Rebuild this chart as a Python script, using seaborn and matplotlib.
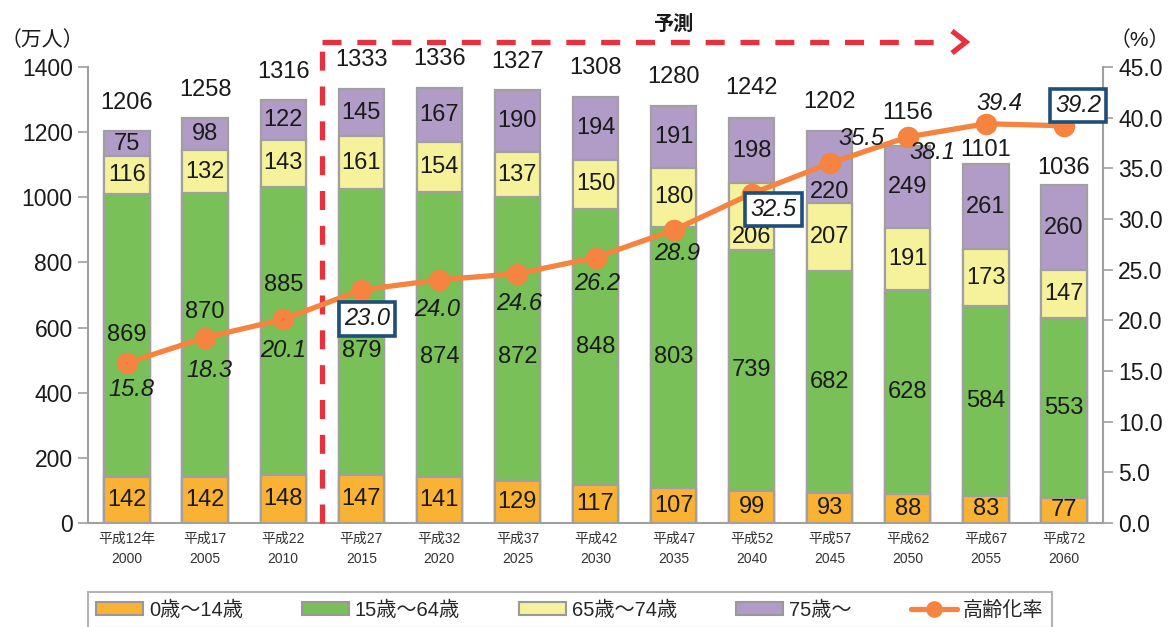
import numpy as np
import pandas as pd
import matplotlib
matplotlib.use("Agg")
import matplotlib.pyplot as plt
from matplotlib.patches import Patch
from matplotlib.lines import Line2D
import seaborn as sns

# ---------------- data ----------------
era_labels = ["平成12年", "平成17", "平成22", "平成27", "平成32", "平成37", "平成42",
              "平成47", "平成52", "平成57", "平成62", "平成67", "平成72"]
years = ["2000", "2005", "2010", "2015", "2020", "2025", "2030",
         "2035", "2040", "2045", "2050", "2055", "2060"]
age_0_14 = [142, 142, 148, 147, 141, 129, 117, 107, 99, 93, 88, 83, 77]
age_15_64 = [869, 870, 885, 879, 874, 872, 848, 803, 739, 682, 628, 584, 553]
age_65_74 = [116, 132, 143, 161, 154, 137, 150, 180, 206, 207, 191, 173, 147]
age_75_up = [75, 98, 122, 145, 167, 190, 194, 191, 198, 220, 249, 261, 260]
totals = [1206, 1258, 1316, 1333, 1336, 1327, 1308, 1280, 1242, 1202, 1156, 1101, 1036]
aging_rate = [15.8, 18.3, 20.1, 23.0, 24.0, 24.6, 26.2, 28.9, 32.5, 35.5, 38.1, 39.4, 39.2]
series_names = ["0歳～14歳", "15歳～64歳", "65歳～74歳", "75歳～"]
line_name = "高齢化率"

# ---------------- style ----------------
sns.set_theme(style="white")
plt.rcParams["font.family"] = ["Liberation Sans", "Noto Sans CJK JP", "DejaVu Sans"]

colors = ["#F9B233", "#78C057", "#F6F29C", "#B19CC7"]
edge = "#A0A0A0"
line_color = "#F4843F"
red = "#E8313F"
box_blue = "#1F4E79"
txt = "#1A1A1A"

W, H = 1171, 627
fig = plt.figure(figsize=(W / 100, H / 100), dpi=100)
ax = fig.add_axes([88 / W, 1 - 523 / H, (1103 - 88) / W, (523 - 67) / H])

cats = [f"{e}\n{y}" for e, y in zip(era_labels, years)]
segs = [age_0_14, age_15_64, age_65_74, age_75_up]
cum = np.cumsum(np.array(segs), axis=0)

# stacked bars drawn top-down (overlay)
for k in range(3, -1, -1):
    sns.barplot(x=cats, y=cum[k], order=cats, color=colors[k], saturation=1,
                edgecolor=edge, linewidth=1.6, width=0.58, errorbar=None, ax=ax,
                zorder=2)

ax.set_xlim(-0.5, 12.5)
ax.set_ylim(0, 1400)
ax.set_yticks(range(0, 1401, 200))
ax.set_xticks(range(13))
ax.set_xticklabels(cats, fontsize=10, linespacing=1.6, color="#333333")
ax.set_xlabel("")
ax.set_ylabel("")
ax.set_xticks(np.arange(-0.5, 13, 1), minor=True)
ax.tick_params(axis="x", which="major", length=0, pad=6)
ax.tick_params(axis="x", which="minor", length=6, width=1.2, color=edge, direction="out")
ax.tick_params(axis="y", length=7, width=1.2, color=edge, direction="out",
               labelsize=16.5, labelcolor=txt, pad=4)
for s in ["top", "right"]:
    ax.spines[s].set_visible(False)
for s in ["left", "bottom"]:
    ax.spines[s].set_color(edge)
    ax.spines[s].set_linewidth(1.5)

# segment labels
green_shift = [0, 71, 141, -58, -68, -55, 0, 0, 0, 0, 0, 0, 0]
yellow_shift = [0, 0, 0, 0, 0, 0, 0, 0, -63, 0, 0, 0, 0]
purple_shift = [0, 0, 0, 0, 0, 0, 0, 0, 0, -76, 0, 0, 0]
shifts = [[0] * 13, green_shift, yellow_shift, purple_shift]
for k in range(4):
    for i in range(13):
        base = cum[k][i] - segs[k][i]
        yc = base + segs[k][i] / 2 + shifts[k][i]
        ax.text(i, yc, str(segs[k][i]), ha="center", va="center",
                fontsize=17, color=txt, zorder=5)

# totals
total_gap = [88, 88, 88, 88, 88, 88, 88, 88, 92, 90, 103, 43, 52]
for i in range(13):
    ax.text(i, cum[3][i] + total_gap[i], str(totals[i]), ha="center", va="center",
            fontsize=17, color=txt, zorder=5)

# aging rate line
ax2 = ax.twinx()
sns.lineplot(x=np.arange(13), y=aging_rate, ax=ax2, color=line_color, lw=3.8,
             marker="o", markersize=15.5, markeredgewidth=0, zorder=4)
ax2.set_xlim(-0.5, 12.5)
ax2.set_ylim(0, 45)
ax2.set_yticks(np.arange(0, 45.1, 5))
ax2.set_yticklabels([f"{v:.1f}" for v in np.arange(0, 45.1, 5)])
ax2.tick_params(axis="y", length=7, width=1.2, color=edge, direction="out",
                labelsize=16.5, labelcolor=txt, pad=4)
for s in ["top", "left", "bottom"]:
    ax2.spines[s].set_visible(False)
ax2.spines["right"].set_color(edge)
ax2.spines["right"].set_linewidth(1.5)
ax2.grid(False)
ax.grid(False)

offsets = [(4, -27), (4, -33), (0, -31), (6, -29), (-2, -30), (2, -30), (2, -26),
           (4, -23), (22, -16), (32, 25), (25, -16), (14, 20), (14, 20)]
boxed = {3, 8, 12}
for i, r in enumerate(aging_rate):
    kw = {}
    if i in boxed:
        kw["bbox"] = dict(boxstyle="square,pad=0.22", fc="white", ec=box_blue, lw=2.6)
    ax2.annotate(f"{r:.1f}", (i, r), xytext=offsets[i], textcoords="offset pixels",
                 ha="center", va="center", fontsize=17, style="italic", color=txt,
                 zorder=6, **kw)

# forecast divider and arrow
px_to_x = lambda px: (px - 88) / ((1103 - 88) / 13) - 0.5
py_to_y = lambda py: (523 - py) / ((523 - 67) / 1400)
dash = (0, (3.6, 3.0))
ax.plot([2.5, 2.5], [0, py_to_y(42)], color=red, lw=3.8, ls=dash, clip_on=False,
        zorder=7, solid_capstyle="butt", dash_capstyle="butt")
ax.plot([2.5, px_to_x(940)], [py_to_y(42), py_to_y(42)], color=red, lw=3.8, ls=dash,
        clip_on=False, zorder=7, dash_capstyle="butt")
ax.plot([px_to_x(952), px_to_x(966), px_to_x(952)],
        [py_to_y(31), py_to_y(42), py_to_y(53)], color=red, lw=3.8, clip_on=False,
        zorder=7, solid_capstyle="butt", solid_joinstyle="miter")
fig.text(673 / W, 1 - 24 / H, "予測", ha="center", va="center", fontsize=14.5,
         fontweight="bold", color=txt)

# unit labels
fig.text(1 / W, 1 - 40 / H, "（万人）", ha="left", va="center", fontsize=15, color=txt)
fig.text(1 - 1 / W, 1 - 40 / H, "（%）", ha="right", va="center", fontsize=15, color=txt)

# legend
handles = [Patch(facecolor=colors[k], edgecolor="#999999", lw=1.5) for k in range(4)]
handles.append(Line2D([], [], color=line_color, lw=3.8, marker="o", markersize=12,
                      markeredgewidth=0))
leg = fig.legend(handles, series_names + [line_name], loc="upper left",
                 bbox_to_anchor=(88 / W, 0, (1052 - 88) / W, 1 - 592 / H),
                 mode="expand", ncol=5, fontsize=14.5, frameon=True, fancybox=False,
                 edgecolor="#A0A0A0", handlelength=2.3, handleheight=0.6,
                 handletextpad=0.3, borderpad=0.42, borderaxespad=0.0,
                 columnspacing=1.0)
leg.get_frame().set_linewidth(1.5)

fig.savefig("out.png", dpi=100)
